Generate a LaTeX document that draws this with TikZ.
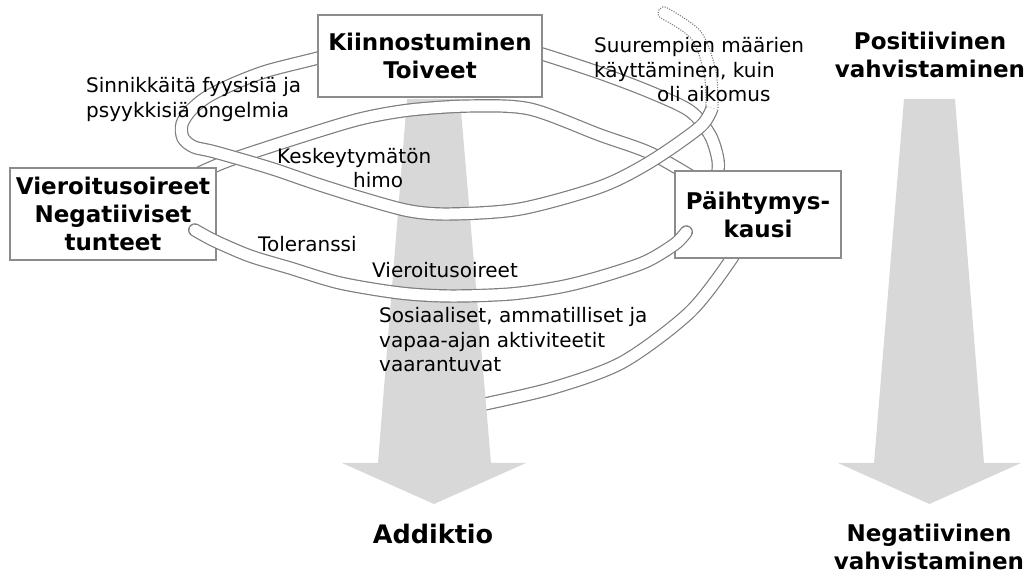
\documentclass[tikz,border=0pt]{standalone}
\usepackage{fontspec}
\setmainfont{DejaVu Sans}
\usetikzlibrary{calc}
\newcommand\regfont{\fontsize{20}{25}\selectfont}
\newcommand\boldfont{\fontsize{23}{28}\selectfont\bfseries}
\newcommand\bigboldfont{\fontsize{25.5}{30}\selectfont\bfseries}
\definecolor{tubegray}{RGB}{125,125,125}
\definecolor{boxgray}{RGB}{140,140,140}
\definecolor{arrowgray}{RGB}{216,216,216}
\pgfdeclarelayer{arrows}
\pgfdeclarelayer{tubes}
\pgfdeclarelayer{front}
\pgfsetlayers{arrows,tubes,main,front}
\begin{document}
\begin{tikzpicture}[x=1pt,y=-1pt,
  tube/.style={draw=tubegray, line width=1.2pt, double=white, double distance=11pt},
  dotline/.style={draw=tubegray, line width=1.1pt, dash pattern=on 1.1pt off 1.4pt},
  box/.style={draw=boxgray, line width=1.5pt, fill=white, align=center, font=\boldfont, inner sep=0pt},
  lbl/.style={anchor=base west, font=\regfont, inner sep=0pt},
  head/.style={align=center, font=\boldfont, inner sep=0pt},
  bigarrow/.style={fill=arrowgray, draw=none}]
\useasboundingbox (0,0) rectangle (1029,577);

% boxes
\node[box, minimum width=224pt, minimum height=82pt] (kiin) at (430,56) {Kiinnostuminen\\Toiveet};
\node[box, minimum width=206pt, minimum height=92pt] (vier) at (113,214) {Vieroitusoireet\\Negatiiviset\\tunteet};
\node[box, minimum width=166pt, minimum height=87pt] (paih) at (758,214.5) {Päihtymys-\\kausi};

% tube end points
\coordinate (aS) at ($(kiin.west)+(15,-3)$);
\coordinate (bS) at ($(vier.north east)+(-18,6)$);
\coordinate (bE) at ($(paih.north west)+(20,8)$);
\coordinate (cS) at ($(kiin.east)+(-12,-4)$);
\coordinate (cE) at ($(paih.north west)+(43,10)$);
\coordinate (dS) at ($(vier.east)+(-22,16)$);
\coordinate (dE) at ($(paih.west)+(12,17.5)$);
\coordinate (eS) at ($(paih.south west)+(58,-8)$);
\coordinate (eE) at (480,405);

\begin{pgfonlayer}{arrows}
  \draw[tube] plot[smooth] coordinates {(eS) (732,258) (690,312) (623,362) (553,388) (eE)};
  \path[bigarrow] (407,99) -- (460,99) -- (491,463) -- (526,463) -- (434,504) -- (342,463) -- (378,463) -- cycle;
  \path[bigarrow] (904,99) -- (955,99) -- (984,463) -- (1021,463) -- (929.5,504) -- (838,463) -- (874,463) -- cycle;
\end{pgfonlayer}

\begin{pgfonlayer}{tubes}
  % tube B: Vieroitusoireet -> Paihtymys
  \draw[tube] plot[smooth] coordinates {(bS) (230,160) (300,137) (360,119) (410,110) (470,106) (530,109) (600,135) (650,153) (bE)};
  % tube C: Kiinnostuminen -> Paihtymys
  \draw[tube] plot[smooth] coordinates {(cS) (542,54) (600,73) (650,92) (690,111) (710,135) (718,160) (cE)};
  % tube A: Kiinnostuminen -> loop -> up
  \draw[tube] plot[smooth] coordinates {(aS) (318,58) (267,71) (233,84) (207,97) (191,110) (182,124) (183,138) (194,147) (215,152) (270,168) (317,184) (365,199) (410,211) (450,214) (520,209) (600,187) (650,162) (700,127) (712,108)};
  % dotted continuation
  \draw[dotline] plot[smooth] coordinates {(718,108) (715.9,70.7) (700.7,31.3) (667.4,8.05)}
     .. controls (660.8,3.5) and (654,13.4) .. (660.6,17.95)
     -- plot[smooth] coordinates {(660.6,17.95) (691.3,38.7) (704.1,73.3) (706,108)};
\end{pgfonlayer}

\begin{pgfonlayer}{front}
  % tube D: Vieroitusoireet -> Paihtymys (bottom)
  \draw[tube, line cap=round] plot[smooth] coordinates {(dS) (215,241) (250,256) (290,268) (340,283) (400,293) (450,296) (510,294) (560,287) (600,277) (645,262) (675,244) (dE)};

  \node[lbl] (s1) at (86,93) {Sinnikkäitä fyysisiä ja};
  \node[lbl] (s2) at (86,118) {psyykkisiä ongelmia};
  \node[lbl] (k1) at (277,164) {Keskeytymätön};
  \node[lbl] (k2) at (353,188) {himo};
  \node[lbl] (tol) at (258,252) {Toleranssi};
  \node[lbl] (vie) at (372,278) {Vieroitusoireet};
  \node[lbl] (u1) at (594,53) {Suurempien määrien};
  \node[lbl] (u2) at (594,78) {käyttäminen, kuin};
  \node[lbl] (u3) at (657,102) {oli aikomus};
  \node[lbl] (so1) at (379,323) {Sosiaaliset, ammatilliset ja};
  \node[lbl] (so2) at (379,348) {vapaa-ajan aktiviteetit};
  \node[lbl] (so3) at (379,372) {vaarantuvat};

  \node[head] (pos) at (930,54.75) {Positiivinen\\vahvistaminen};
  \node[head] (neg) at (929,547) {Negatiivinen\\vahvistaminen};
  \node[anchor=base, font=\bigboldfont, inner sep=0pt] (add) at (433,543) {Addiktio};
\end{pgfonlayer}
\end{tikzpicture}
\end{document}
